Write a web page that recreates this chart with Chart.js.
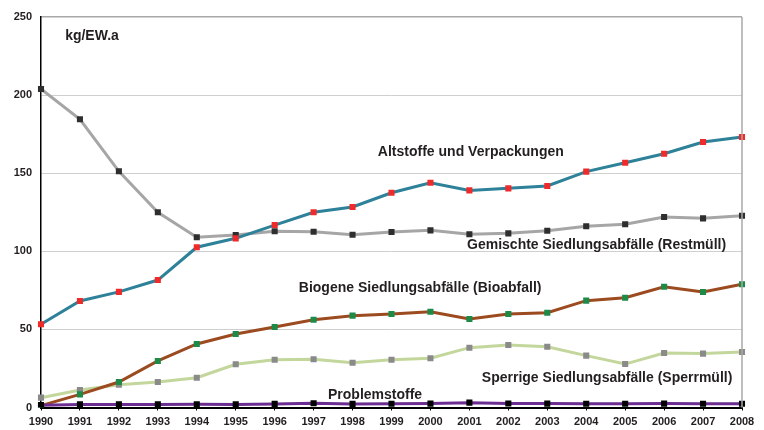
<!DOCTYPE html>
<html>
<head>
<meta charset="utf-8">
<script src="https://cdn.jsdelivr.net/npm/chart.js@4"></script>
<style>
  html, body { margin: 0; padding: 0; background: #fff; }
  #wrap { width: 764px; height: 430px; }
</style>
</head>
<body>
<div id="wrap"><canvas id="chart" width="764" height="430"></canvas></div>
<script>
// Siedlungsabfälle kg/EW.a 1990-2008
const years = ['1990','1991','1992','1993','1994','1995','1996','1997','1998','1999',
               '2000','2001','2002','2003','2004','2005','2006','2007','2008'];
const yTicks = [0, 50, 100, 150, 200, 250];

const altstoffe  = [53.3, 68.2, 74.0, 81.6, 102.6, 108.3, 116.8, 125.0, 128.4, 137.5,
                    143.9, 139.0, 140.3, 141.8, 151.0, 156.7, 162.5, 170.0, 173.2];
const restmuell  = [203.9, 184.5, 151.2, 125.0, 109.0, 110.4, 112.8, 112.5, 110.6, 112.4,
                    113.4, 110.9, 111.5, 113.2, 116.0, 117.3, 122.0, 121.1, 122.8];
const bioabfall  = [1.2, 8.4, 16.3, 29.8, 40.7, 47.1, 51.5, 56.2, 58.8, 59.9,
                    61.3, 56.7, 59.9, 60.7, 68.4, 70.3, 77.3, 73.9, 78.9];
const sperrmuell = [6.3, 11.2, 14.6, 16.3, 19.1, 27.7, 30.6, 30.9, 28.7, 30.6,
                    31.5, 38.3, 40.0, 38.9, 33.2, 27.8, 34.9, 34.5, 35.5];
const problem    = [1.5, 2.0, 2.0, 2.0, 2.1, 2.0, 2.3, 2.7, 2.3, 2.4,
                    2.5, 3.1, 2.6, 2.5, 2.4, 2.4, 2.5, 2.4, 2.4];

const FONT = '"Liberation Sans", Arial, sans-serif';
const TXT = '#231f20';

// text labels placed in data coordinates (x = category index, y = value)
const notes = [
  { text: 'kg/EW.a', x: 0.62, y: 237.8 },
  { text: 'Altstoffe und Verpackungen', x: 8.65, y: 163.6 },
  { text: 'Gemischte Siedlungsabfälle (Restmüll)', x: 10.94, y: 104 },
  { text: 'Biogene Siedlungsabfälle (Bioabfall)', x: 6.62, y: 76.5 },
  { text: 'Sperrige Siedlungsabfälle (Sperrmüll)', x: 11.32, y: 18.9 },
  { text: 'Problemstoffe', x: 7.37, y: 8 }
];

const notesPlugin = {
  id: 'notes',
  afterDraw(chart) {
    const { ctx, scales: { x, y }, chartArea: a } = chart;
    ctx.save();
    // right frame line
    ctx.strokeStyle = '#a8a8a8';
    ctx.lineWidth = 1.5;
    ctx.beginPath();
    ctx.moveTo(a.right, a.top);
    ctx.lineTo(a.right, a.bottom);
    ctx.stroke();
    ctx.font = 'bold 14px ' + FONT;
    ctx.fillStyle = TXT;
    ctx.textBaseline = 'middle';
    ctx.textAlign = 'left';
    notes.forEach(n => {
      const px = x.left + (x.right - x.left) * n.x / (years.length - 1);
      ctx.fillText(n.text, px, y.getPixelForValue(n.y));
    });
    ctx.restore();
  }
};

function series(label, data, line, marker) {
  return {
    label, data,
    borderColor: line, borderWidth: 3,
    pointStyle: 'rect', pointRadius: 4.3, pointHoverRadius: 4.3,
    pointBackgroundColor: marker, pointBorderWidth: 0,
    tension: 0, fill: false
  };
}

new Chart(document.getElementById('chart'), {
  type: 'line',
  data: {
    labels: years,
    datasets: [
      series('Problemstoffe', problem, '#6b2d91', '#000000'),
      series('Bioabfall', bioabfall, '#9c4a1f', '#1d8a48'),
      series('Altstoffe und Verpackungen', altstoffe, '#2d8199', '#ee2a2a'),
      series('Restmüll', restmuell, '#a6a6a6', '#2e2e2e'),
      series('Sperrmüll', sperrmuell, '#c3d79c', '#8a8a8a')
    ]
  },
  options: {
    responsive: false, animation: false,
    layout: { padding: { top: 17, right: 22, left: 0, bottom: 0 } },
    plugins: { legend: { display: false }, tooltip: { enabled: false } },
    scales: {
      x: {
        offset: false,
        afterFit: s => { s.height = 22.5; },
        border: { color: '#000', width: 2 },
        grid: { color: 'transparent', tickColor: '#000', tickLength: 3, drawOnChartArea: false },
        ticks: { autoSkip: false, maxRotation: 0, padding: 5, color: TXT,
                 font: { family: FONT, size: 11, weight: 'bold' } }
      },
      y: {
        min: 0, max: 250,
        afterFit: s => { s.width = 41; },
        afterBuildTicks: s => { s.ticks = yTicks.map(v => ({ value: v })); },
        border: { color: '#000', width: 1.5 },
        grid: { color: ctx => ctx.tick && ctx.tick.value === 250 ? '#a8a8a8' : '#cfcfcf',
                lineWidth: ctx => ctx.tick && ctx.tick.value === 250 ? 1.5 : 1, drawTicks: false },
        ticks: { padding: 9, color: TXT, font: { family: FONT, size: 11, weight: 'bold' } }
      }
    }
  },
  plugins: [notesPlugin]
});
</script>
</body>
</html>
